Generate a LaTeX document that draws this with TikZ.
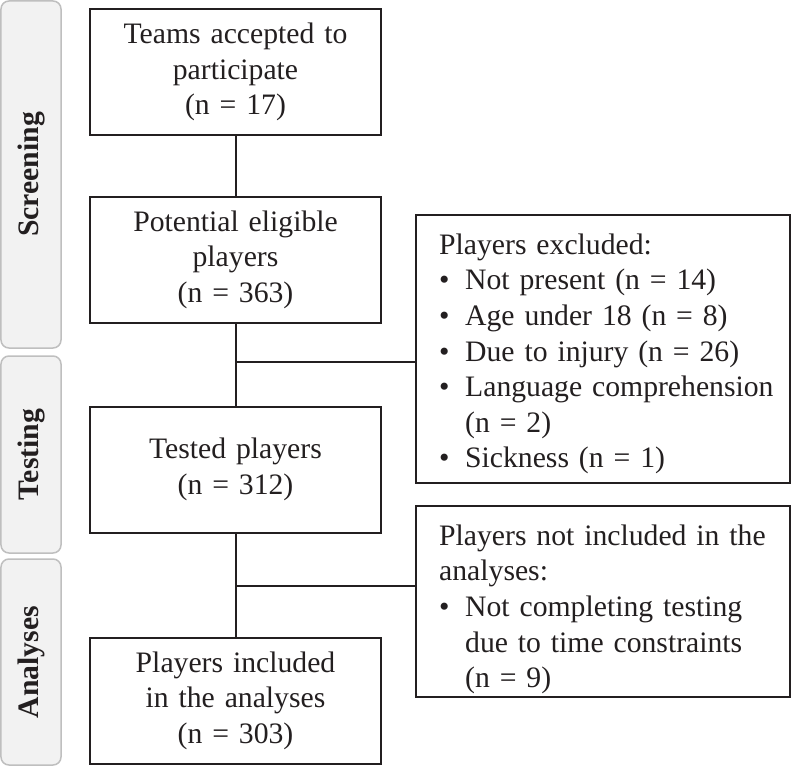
\documentclass[tikz,border=0pt]{standalone}
\usepackage{fontspec}
\setmainfont{Liberation Serif}
\definecolor{ink}{HTML}{231F20}
\definecolor{phasefill}{HTML}{F2F2F2}
\definecolor{phaseline}{HTML}{BFBFBF}
\begin{document}
\begin{tikzpicture}[x=1bp,y=-1bp,
  txt/.style={font=\fontsize{29.8}{35.7}\selectfont, text=ink},
  phase/.style={draw=phaseline, fill=phasefill, rounded corners=8bp, line width=1.5bp,
    rotate=90, inner sep=0pt, minimum height=60bp, text=ink,
    font=\fontsize{29.8}{35.7}\selectfont\bfseries},
  mainbox/.style={txt, draw=ink, line width=2bp, minimum width=291bp, minimum height=126bp,
    text width=271bp, align=center, inner sep=0pt},
  sidebox/.style={draw=ink, line width=2bp, minimum width=374bp, inner sep=0pt},
  sidetext/.style={txt, text width=345bp, align=left, inner sep=0pt, anchor=north west},
  conn/.style={draw=ink, line width=2bp}]
\useasboundingbox (0,0) rectangle (792,770);
% phases
\node[phase, minimum width=347bp] (ph1) at (31,174.5) {Screening};
\node[phase, minimum width=197bp] (ph2) at (31,454.5) {Testing};
\node[phase, minimum width=206bp] (ph3) at (31,662) {Analyses};
% main boxes
\node[mainbox] (b1) at (235.5,72) {Teams accepted to\\participate\\(n = 17)};
\node[mainbox] (b2) at (235.5,259.5) {Potential eligible\\players\\(n = 363)};
\node[mainbox] (b3) at (235.5,469.5) {Tested players\\(n = 312)};
\node[mainbox] (b4) at (235.5,700.5) {Players included\\in the analyses\\(n = 303)};
% side boxes
\node[sidebox, minimum height=268bp] (s1) at (603,349) {};
\node[sidetext] (s1t) at (439,233.5) {Players excluded:\\
\makebox[26bp][l]{\textbullet}Not present (n = 14)\\
\makebox[26bp][l]{\textbullet}Age under 18 (n = 8)\\
\makebox[26bp][l]{\textbullet}Due to injury (n = 26)\\
\makebox[26bp][l]{\textbullet}Language comprehension\\
\hspace*{26bp}(n = 2)\\
\makebox[26bp][l]{\textbullet}Sickness (n = 1)};
\node[sidebox, minimum height=191bp] (s2) at (603,601.5) {};
\node[sidetext] (s2t) at (439,524.5) {Players not included in the\\
analyses:\\
\makebox[26bp][l]{\textbullet}Not completing testing\\
\hspace*{26bp}due to time constraints\\
\hspace*{26bp}(n = 9)};
% connectors
\coordinate (j1) at (235.5,362);
\coordinate (j2) at (235.5,586);
\draw[conn] (b1) -- (b2);
\draw[conn] (b2) -- (b3);
\draw[conn] (b3) -- (b4);
\draw[conn] (j1) -- (j1 -| s1.west);
\draw[conn] (j2) -- (j2 -| s2.west);
\end{tikzpicture}
\end{document}
